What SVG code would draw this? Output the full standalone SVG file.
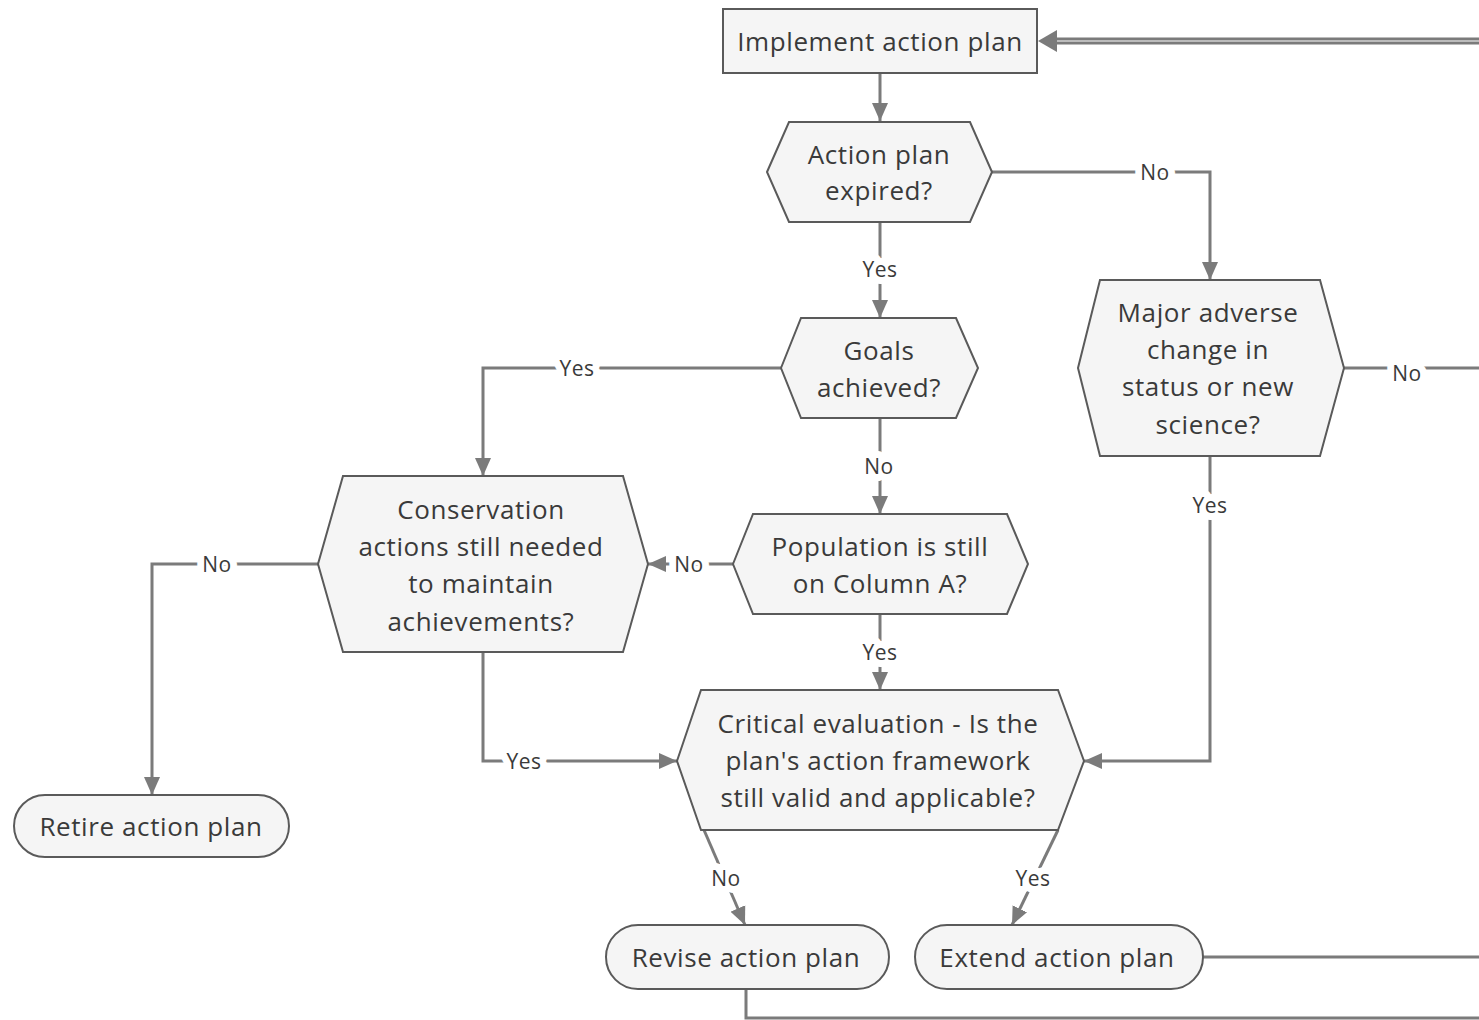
<svg xmlns="http://www.w3.org/2000/svg" width="1479" height="1020" viewBox="0 0 1479 1020">
<style>
.node{fill:#f5f5f5;stroke:#5a5a5a;stroke-width:2}
.t{font-family:"Open Sans","Noto Sans","Liberation Sans",sans-serif;font-size:26px;letter-spacing:0.6px;fill:#3a3a3a;text-anchor:middle;dominant-baseline:central}
.c{fill:none;stroke:#7b7b7b;stroke-width:3}
.lbl{font-family:"Open Sans","Noto Sans","Liberation Sans",sans-serif;font-size:21px;letter-spacing:0.5px;fill:#3a3a3a;text-anchor:middle;dominant-baseline:central;stroke:#ffffff;stroke-width:14;paint-order:stroke;stroke-linejoin:round}
</style>
<defs>
<marker id="ah" markerUnits="userSpaceOnUse" markerWidth="20" markerHeight="18" refX="18" refY="9" orient="auto">
<path d="M0,1 L18,9 L0,17 z" fill="#7b7b7b"/>
</marker>
</defs>
<rect width="1479" height="1020" fill="#ffffff"/>
<g id="connectors">
<path class="c" d="M1479,39 L1050,39"/>
<path class="c" d="M1479,43 L1050,43"/>
<path d="M1038,41 L1057,30 L1057,52 z" fill="#7b7b7b"/>
<path class="c" d="M880,73 L880,121" marker-end="url(#ah)"/>
<path class="c" d="M992,172 L1210,172 L1210,280" marker-end="url(#ah)"/>
<path class="c" d="M880,222 L880,318" marker-end="url(#ah)"/>
<path class="c" d="M781,368 L483,368 L483,476" marker-end="url(#ah)"/>
<path class="c" d="M880,418 L880,514" marker-end="url(#ah)"/>
<path class="c" d="M733,564 L648,564" marker-end="url(#ah)"/>
<path class="c" d="M318,564 L152,564 L152,795" marker-end="url(#ah)"/>
<path class="c" d="M483,652 L483,761 L677,761" marker-end="url(#ah)"/>
<path class="c" d="M880,614 L880,690" marker-end="url(#ah)"/>
<path class="c" d="M1344,368 L1479,368"/>
<path class="c" d="M1210,456 L1210,761 L1084,761" marker-end="url(#ah)"/>
<path class="c" d="M704,830 L745,925" marker-end="url(#ah)"/>
<path class="c" d="M1058,830 L1012,925" marker-end="url(#ah)"/>
<path class="c" d="M1203,957 L1479,957"/>
<path class="c" d="M746,989 L746,1018 L1479,1018"/>
<text class="lbl" x="1155" y="172">No</text>
<text class="lbl" x="880" y="269">Yes</text>
<text class="lbl" x="577" y="368">Yes</text>
<text class="lbl" x="879" y="466">No</text>
<text class="lbl" x="689" y="564">No</text>
<text class="lbl" x="217" y="564">No</text>
<text class="lbl" x="524" y="761">Yes</text>
<text class="lbl" x="880" y="652">Yes</text>
<text class="lbl" x="1407" y="373">No</text>
<text class="lbl" x="1210" y="505">Yes</text>
<text class="lbl" x="726" y="878">No</text>
<text class="lbl" x="1033" y="878">Yes</text>
</g>
<g id="n-implement">
<rect class="node" x="723" y="9" width="314" height="64"/>
<text class="t" x="880" y="41">Implement action plan</text>
</g>
<g id="n-expired">
<polygon class="node" points="767,172 789,122 970,122 992,172 970,222 789,222"/>
<text class="t" x="879" y="154">Action plan</text>
<text class="t" x="879" y="190">expired?</text>
</g>
<g id="n-goals">
<polygon class="node" points="781,368 801,318 956,318 978,368 956,418 801,418"/>
<text class="t" x="879" y="350">Goals</text>
<text class="t" x="879" y="387">achieved?</text>
</g>
<g id="n-population">
<polygon class="node" points="733,564 753,514 1007,514 1028,564 1007,614 753,614"/>
<text class="t" x="880" y="546">Population is still</text>
<text class="t" x="880" y="583">on Column A?</text>
</g>
<g id="n-conservation">
<polygon class="node" points="318,564 343,476 623,476 648,564 623,652 343,652"/>
<text class="t" x="481" y="509">Conservation</text>
<text class="t" x="481" y="546">actions still needed</text>
<text class="t" x="481" y="583">to maintain</text>
<text class="t" x="481" y="621">achievements?</text>
</g>
<g id="n-major">
<polygon class="node" points="1078,368 1100,280 1320,280 1344,368 1320,456 1100,456"/>
<text class="t" x="1208" y="312">Major adverse</text>
<text class="t" x="1208" y="349">change in</text>
<text class="t" x="1208" y="386">status or new</text>
<text class="t" x="1208" y="424">science?</text>
</g>
<g id="n-critical">
<polygon class="node" points="677,761 701,690 1058,690 1084,761 1058,830 701,830"/>
<text class="t" x="878" y="723">Critical evaluation - Is the</text>
<text class="t" x="878" y="760">plan's action framework</text>
<text class="t" x="878" y="797">still valid and applicable?</text>
</g>
<g id="n-retire">
<rect class="node" x="14" y="795" width="275" height="62" rx="31"/>
<text class="t" x="151" y="826">Retire action plan</text>
</g>
<g id="n-revise">
<rect class="node" x="606" y="925" width="283" height="64" rx="32"/>
<text class="t" x="746" y="957">Revise action plan</text>
</g>
<g id="n-extend">
<rect class="node" x="915" y="925" width="288" height="64" rx="32"/>
<text class="t" x="1057" y="957">Extend action plan</text>
</g>
</svg>
